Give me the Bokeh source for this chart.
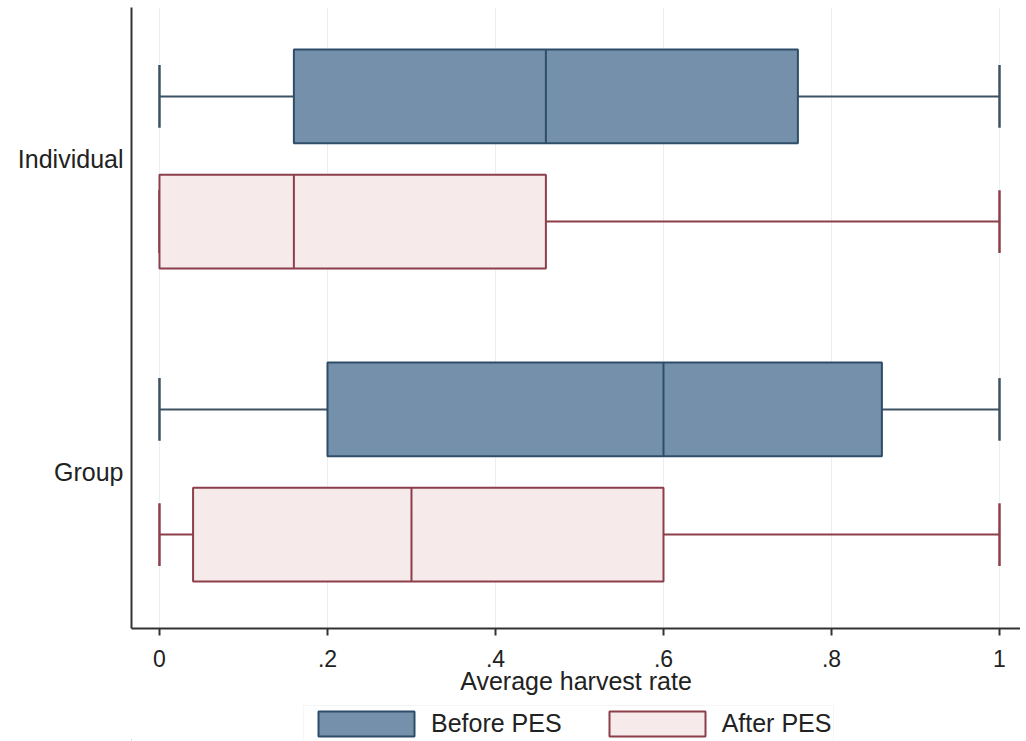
from bokeh.plotting import figure
from bokeh.models import Range1d, Legend, LegendItem, FixedTicker, ColumnDataSource
from bokeh.layouts import column
from bokeh.embed import file_html
from bokeh.resources import INLINE

groups = ["Individual", "Group"]
group_pos = [1, 2]
x_ticks = [0, 0.2, 0.4, 0.6, 0.8, 1.0]
x_tick_labels = ["0", ".2", ".4", ".6", ".8", "1"]

before_min = [0.0, 0.0]
before_q1 = [0.16, 0.20]
before_med = [0.46, 0.60]
before_q3 = [0.76, 0.86]
before_max = [1.0, 1.0]

after_min = [0.0, 0.0]
after_q1 = [0.0, 0.04]
after_med = [0.16, 0.30]
after_q3 = [0.46, 0.60]
after_max = [1.0, 1.0]

FONT = "Liberation Sans"
offset = 0.2
box_h = 0.30
cap_h = 0.20

p = figure(frame_width=889, frame_height=621, output_backend="svg", toolbar_location=None,
           x_range=Range1d(-0.0333, 1.025), y_range=Range1d(2.5, 0.516),
           min_border_left=131, min_border_right=0, min_border_top=7, min_border_bottom=0)
p.outline_line_color = None
p.ygrid.visible = False
p.xgrid.grid_line_color = "#e9eff4"
p.xgrid.grid_line_width = 1
p.xgrid.ticker = FixedTicker(ticks=x_ticks)

styles = {
    "before": dict(fill="#7490ab", line="#2e4d69", whisk="#3c5263", sign=-1,
                   mn=before_min, q1=before_q1, md=before_med, q3=before_q3, mx=before_max,
                   label="Before PES"),
    "after": dict(fill="#f6eaea", line="#8c3f4b", whisk="#8c3f4b", sign=1,
                  mn=after_min, q1=after_q1, md=after_med, q3=after_q3, mx=after_max,
                  label="After PES"),
}

for key, s in styles.items():
    ys = [g + s["sign"] * offset for g in group_pos]
    src = ColumnDataSource(dict(y=ys, mn=s["mn"], q1=s["q1"], md=s["md"], q3=s["q3"], mx=s["mx"],
                                ytop=[y - box_h / 2 for y in ys], ybot=[y + box_h / 2 for y in ys],
                                ctop=[y - cap_h / 2 for y in ys], cbot=[y + cap_h / 2 for y in ys]))
    p.segment(x0="mn", y0="y", x1="q1", y1="y", source=src, line_color=s["whisk"], line_width=2)
    p.segment(x0="q3", y0="y", x1="mx", y1="y", source=src, line_color=s["whisk"], line_width=2)
    p.segment(x0="mn", y0="ctop", x1="mn", y1="cbot", source=src, line_color=s["whisk"], line_width=2.5)
    p.segment(x0="mx", y0="ctop", x1="mx", y1="cbot", source=src, line_color=s["whisk"], line_width=2.5)
    p.hbar(y="y", left="q1", right="q3", height=box_h, source=src,
           fill_color=s["fill"], line_color=s["line"], line_width=2)
    p.segment(x0="md", y0="ytop", x1="md", y1="ybot", source=src, line_color=s["line"], line_width=2)

p.xaxis.ticker = FixedTicker(ticks=x_ticks)
p.xaxis.major_label_overrides = {t: l for t, l in zip(x_ticks, x_tick_labels)}
p.xaxis.axis_label = "Average harvest rate"
p.xaxis.axis_label_text_font = FONT
p.xaxis.axis_label_text_font_size = "25px"
p.xaxis.axis_label_text_font_style = "normal"
p.xaxis.axis_label_text_color = "#222222"
p.xaxis.axis_label_standoff = -3
p.xaxis.major_label_text_font = FONT
p.xaxis.major_label_text_font_size = "23px"
p.xaxis.major_label_text_color = "#222222"
p.xaxis.major_label_standoff = 14
p.xaxis.major_tick_out = 7
p.xaxis.major_tick_in = 0
p.xaxis.minor_tick_out = 0
p.xaxis.minor_tick_in = 0
p.xaxis.axis_line_width = 2
p.xaxis.axis_line_color = "#333333"
p.xaxis.major_tick_line_width = 2
p.xaxis.major_tick_line_color = "#333333"

p.yaxis.ticker = FixedTicker(ticks=group_pos)
p.yaxis.major_label_overrides = {g: n for g, n in zip(group_pos, groups)}
p.yaxis.major_label_text_font = FONT
p.yaxis.major_label_text_font_size = "25px"
p.yaxis.major_label_text_color = "#222222"
p.yaxis.major_label_standoff = 8
p.yaxis.major_tick_out = 0
p.yaxis.major_tick_in = 0
p.yaxis.minor_tick_out = 0
p.yaxis.minor_tick_in = 0
p.yaxis.axis_line_width = 2
p.yaxis.axis_line_color = "#333333"

# legend strip below the chart (its frame is aligned with the chart's frame)
lf = figure(width=1020, height=43, output_backend="svg", toolbar_location=None,
            x_range=Range1d(0, 1), y_range=Range1d(0, 1),
            min_border_left=0, min_border_right=0, min_border_top=0, min_border_bottom=0)
lf.xaxis.visible = False
lf.yaxis.visible = False
lf.xgrid.visible = False
lf.ygrid.visible = False
lf.outline_line_color = None
items = []
for key, s in styles.items():
    # legend key renderer, placed fully outside the strip's visible ranges
    key_src = ColumnDataSource(dict(y=[-10.0], left=[-5.0], right=[-4.0]))
    r = lf.hbar(y="y", left="left", right="right", height=0.5, source=key_src,
                fill_color=s["fill"], line_color=s["line"], line_width=2)
    items.append(LegendItem(label=s["label"], renderers=[r]))
legend = Legend(items=items, orientation="horizontal", location=(172, -2))
legend.glyph_width = 120
legend.glyph_height = 31
legend.label_text_font = FONT
legend.label_text_font_size = "25px"
legend.label_text_color = "#222222"
legend.label_standoff = 5
legend.spacing = 35
legend.padding = 2
legend.margin = 0
legend.border_line_color = "#ececec"
legend.border_line_width = 1
legend.background_fill_alpha = 0
lf.add_layout(legend, "center")

layout = column(p, lf, spacing=0)
open("out.html", "w").write(file_html(layout, INLINE))
